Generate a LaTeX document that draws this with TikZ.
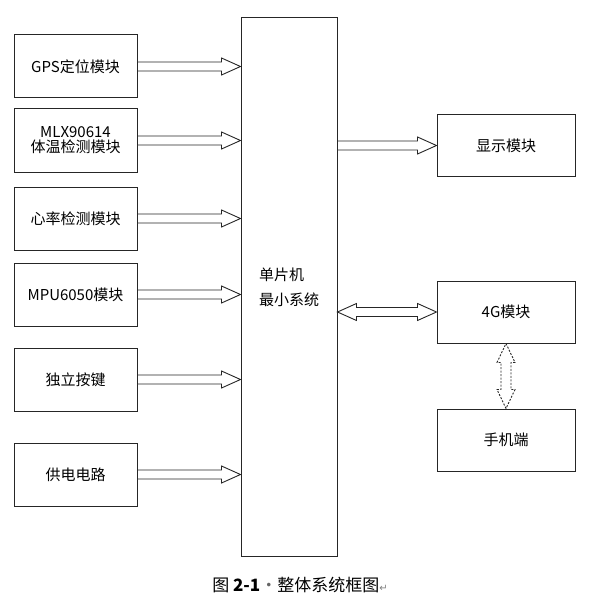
\documentclass[tikz,border=0pt]{standalone}
\usepackage{fontspec}
\setmainfont{Noto Sans CJK SC}
\newfontfamily\symfont{DejaVu Sans}
\usetikzlibrary{calc}
\tikzset{
  box/.style={draw=black!85, line width=1pt, minimum width=123pt, minimum height=63pt, inner sep=0pt, font=\fontsize{15}{18}\selectfont, align=center},
  rbox/.style={box, minimum width=138pt, minimum height=62pt},
  blk/.style={draw=black!85, line width=0.9pt, fill=white, line join=miter},
  dblk/.style={blk, dashed, dash pattern=on 2pt off 1.5pt},
}
\begin{document}
\begin{tikzpicture}[x=1pt,y=-1pt]
\useasboundingbox (0,0) rectangle (590,615);
% central
\node[draw=black!85, line width=1pt, minimum width=96pt, minimum height=538pt, inner sep=0pt, font=\fontsize{15}{25}\selectfont, align=left] (mcu) at (289,287) {单片机\\最小系统};
% left boxes
\node[box] (gps) at (75.5,66.5) {GPS定位模块};
\node[box] (mlx) at (75.5,140.5) {MLX90614\\[-3pt]体温检测模块};
\node[box] (hr) at (75.5,218.5) {心率检测模块};
\node[box] (mpu) at (75.5,294.5) {MPU6050模块};
\node[box] (key) at (75.5,379.5) {独立按键};
\node[box] (pwr) at (75.5,474.5) {供电电路};
% right boxes
\node[rbox] (disp) at (506,145.5) {显示模块};
\node[rbox] (g4) at (506,312) {4G模块};
\node[rbox] (phone) at (506,440) {手机端};
% caption
\node[font=\fontsize{17}{20}\selectfont] (cap) at (300,585) {图 \textbf{2-1}{\color{black!60}\textperiodcentered}整体系统框图{\color{black!50}\symfont\fontsize{10}{10}\selectfont ↵}};
% single block arrows
\foreach \s in {gps,mlx,hr,mpu,key,pwr}{
  \draw[blk] let \p1=(\s.east), \p2=(\s.east -| mcu.west) in
    (\x1,\y1-4.5) -- (\x2-19,\y1-4.5) -- (\x2-19,\y1-8.5) -- (\x2,\y1) -- (\x2-19,\y1+8.5) -- (\x2-19,\y1+4.5) -- (\x1,\y1+4.5) -- cycle;
}
\draw[blk] let \p1=(mcu.east |- disp.west), \p2=(disp.west) in
    (\x1,\y1-4.5) -- (\x2-19,\y1-4.5) -- (\x2-19,\y1-8.5) -- (\x2,\y1) -- (\x2-19,\y1+8.5) -- (\x2-19,\y1+4.5) -- (\x1,\y1+4.5) -- cycle;
% double arrow mcu <-> 4G
\draw[blk] let \p1=(mcu.east |- g4.west), \p2=(g4.west) in
    (\x1,\y1) -- (\x1+19,\y1-8.5) -- (\x1+19,\y1-4.5) -- (\x2-19,\y1-4.5) -- (\x2-19,\y1-8.5) -- (\x2,\y1) -- (\x2-19,\y1+8.5) -- (\x2-19,\y1+4.5) -- (\x1+19,\y1+4.5) -- (\x1+19,\y1+8.5) -- cycle;
% dashed vertical double arrow 4G <-> phone (canvas y points up here)
\draw[dblk] let \p1=(g4.south), \p2=(phone.north) in
    (\x1,\y1) -- (\x1+9,\y1-19) -- (\x1+5,\y1-19) -- (\x1+5,\y2+19) -- (\x1+9,\y2+19) -- (\x1,\y2) -- (\x1-9,\y2+19) -- (\x1-5,\y2+19) -- (\x1-5,\y1-19) -- (\x1-9,\y1-19) -- cycle;
\end{tikzpicture}
\end{document}
